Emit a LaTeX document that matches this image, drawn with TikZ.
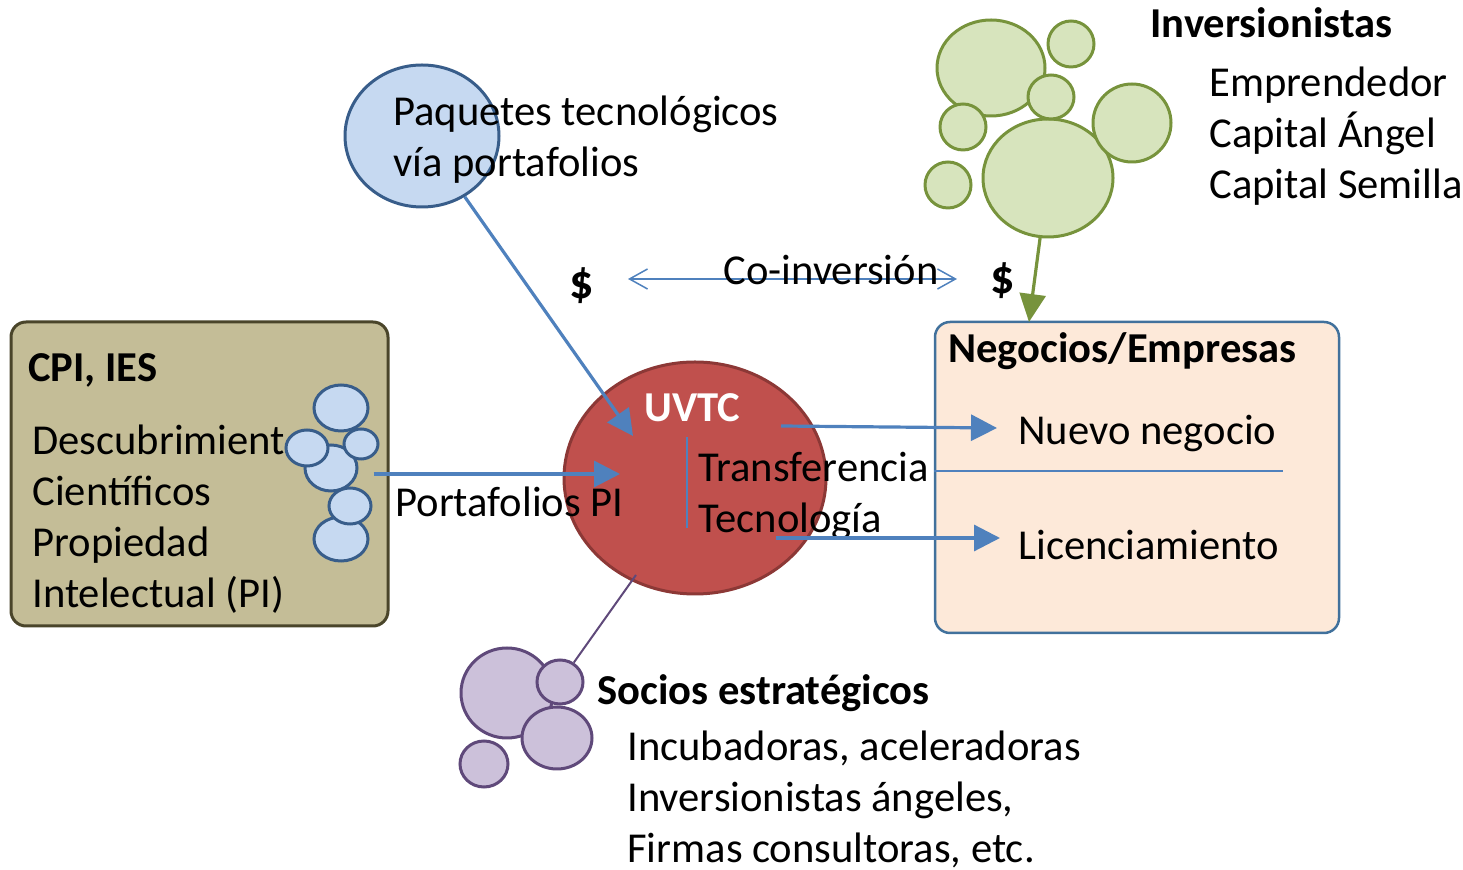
\documentclass[tikz,border=0pt]{standalone}
\usepackage{fontspec}
\setmainfont{Carlito}
\usetikzlibrary{shapes.geometric}
\usetikzlibrary{arrows.meta}
\definecolor{lblue}{HTML}{C6D9F1}
\definecolor{dblue}{HTML}{385D8A}
\definecolor{ablue}{HTML}{4F81BD}
\definecolor{cpifill}{HTML}{C4BD97}
\definecolor{cpidraw}{HTML}{4A452A}
\definecolor{uvfill}{HTML}{C0504D}
\definecolor{uvdraw}{HTML}{8C3836}
\definecolor{negfill}{HTML}{FDE9D9}
\definecolor{negdraw}{HTML}{41719C}
\definecolor{gfill}{HTML}{D7E4BD}
\definecolor{gdraw}{HTML}{77933C}
\definecolor{pfill}{HTML}{CCC1DA}
\definecolor{pdraw}{HTML}{5F497A}
\tikzstyle{txt}=[inner sep=0pt, anchor=base west, align=left, font=\fontsize{21.3}{25.5}\selectfont]
\tikzstyle{btxt}=[txt, font=\fontsize{21.3}{25.5}\selectfont\bfseries]
\tikzstyle{dollar}=[inner sep=0pt, anchor=base, font=\fontsize{24}{28}\selectfont\bfseries]
\tikzstyle{ell}=[ellipse, inner sep=0pt, line width=1.5pt]
\tikzstyle{box}=[rectangle, rounded corners=7.5pt, inner sep=0pt]
\tikzstyle{bbub}=[draw=dblue, fill=lblue, line width=1.5pt]
\tikzstyle{gbub}=[draw=gdraw, fill=gfill, line width=1.5pt]
\tikzstyle{pbub}=[draw=pdraw, fill=pfill, line width=1.5pt]
\tikzstyle{barrow}=[draw=ablue, line width=1.6pt, -{Triangle[length=13pt, width=13pt]}]

\begin{document}
\begin{tikzpicture}[x=0.5pt, y=-0.5pt]
    \useasboundingbox (0,0) rectangle (1463,870);
    % boxes
    \node[box, draw=cpidraw, fill=cpifill, line width=1.5pt, minimum width=188.5pt, minimum height=152pt] (cpi) at (199.5,474) {};
    \node[box, draw=negdraw, fill=negfill, line width=1.25pt, minimum width=202pt, minimum height=155.5pt] (neg) at (1137,477.5) {};
    \node[ell, draw=uvdraw, fill=uvfill, minimum width=131pt, minimum height=116pt] (uvtc) at (695,478) {};
    \node[ell, draw=dblue, fill=lblue, minimum width=77pt, minimum height=71pt] (paq) at (422,136) {};

    % bubbles
    \draw[bbub] (341,408) ellipse [x radius=27, y radius=23];
    \draw[bbub] (331,468) ellipse [x radius=26, y radius=23];
    \draw[bbub] (307,448) ellipse [x radius=21, y radius=18];
    \draw[bbub] (361,444) ellipse [x radius=17, y radius=15];
    \draw[bbub] (341,539) ellipse [x radius=27, y radius=22];
    \draw[bbub] (350,506) ellipse [x radius=21, y radius=18];

    \draw[gbub] (991,68) ellipse [x radius=54, y radius=48];
    \draw[gbub] (1071,44) circle [radius=23];
    \node[ell, gbub, minimum width=65pt, minimum height=59pt] (inv) at (1048,178) {};
    \draw[gbub] (1051,97) ellipse [x radius=23, y radius=22];
    \draw[gbub] (963,127) circle [radius=23];
    \draw[gbub] (1132,123) circle [radius=39];
    \draw[gbub] (948,185) circle [radius=23];

    \draw[pbub] (507,693) ellipse [x radius=46, y radius=45];
    \draw[pbub] (557,738) ellipse [x radius=35, y radius=31];
    \node[ell, pbub, minimum width=23pt, minimum height=22pt] (socio) at (560,682) {};
    \draw[pbub] (484,764) ellipse [x radius=24, y radius=23];

    % texts (multi-line nodes sit on their last baseline)
    \node[txt] (paqtxt) at (393,177) {Paquetes tecnológicos\\vía portafolios};
    \node[dollar] (d1) at (582,299) {\$};
    \node[dollar] (d2) at (1003,294) {\$};
    \node[btxt] (cpititle) at (28,382) {CPI, IES};
    \node[txt] (cpitxt) at (32,608) {Descubrimient\\Científicos\\Propiedad\\Intelectual (PI)};
    \node[txt] (pftxt) at (395,517) {Portafolios PI};
    \node[btxt, text=white] (uvtctxt) at (644,422) {UVTC};
    \node[txt] (trtxt) at (698,533) {Transferencia\\Tecnología};
    \node[btxt] (negtitle) at (948,363) {Negocios/Empresas};
    \node[txt] (nuevo) at (1018,445) {Nuevo negocio};
    \node[txt] (lic) at (1018,560) {Licenciamiento};
    \node[btxt] (invtitle) at (1150,38) {Inversionistas};
    \node[txt] (invtxt) at (1209,199) {Emprendedor\\Capital Ángel\\Capital Semilla};
    \node[btxt] (sociotitle) at (597,705) {Socios estratégicos};
    \node[txt] (sociotxt) at (627,863) {Incubadoras, aceleradoras\\Inversionistas ángeles,\\Firmas consultoras, etc.};

    % connectors
    \coordinate (paqin) at (633,436);
    \coordinate (pfin) at (620,474);
    \coordinate (t1s) at (781,426);
    \coordinate (t1e) at (997,428);
    \coordinate (t2s) at (776,538);
    \coordinate (t2e) at (1000,538);
    \coordinate (negin) at (1029,322);
    \coordinate (uvout) at (636,575);
    \coordinate (ci1) at (628,279);
    \coordinate (ci2) at (957,279);
    \coordinate (sep) at (1283,471);
    \draw[barrow] (paq) -- (paqin);
    \draw[barrow] ([xshift=-8pt]cpi.east) -- (pfin);
    \draw[barrow] (t1s) -- (t1e);
    \draw[barrow] (t2s) -- (t2e);
    \draw[draw=ablue, line width=0.75pt] (sep -| neg.west) -- (sep);
    \draw[draw=ablue, line width=1pt] (687,437) -- (687,528);
    \draw[draw=gdraw, line width=1.6pt, -{Triangle[length=14pt, width=13pt]}] (inv) -- (negin);
    \draw[draw=pdraw, line width=1pt] (uvout) -- (socio);
    \draw[draw=ablue, line width=0.75pt, {Straight Barb[length=9pt, width=10pt]}-{Straight Barb[length=9pt, width=10pt]}] (ci1) -- (ci2);
    \node[txt] (coinv) at (723,285) {Co-inversión};
\end{tikzpicture}
\end{document}
